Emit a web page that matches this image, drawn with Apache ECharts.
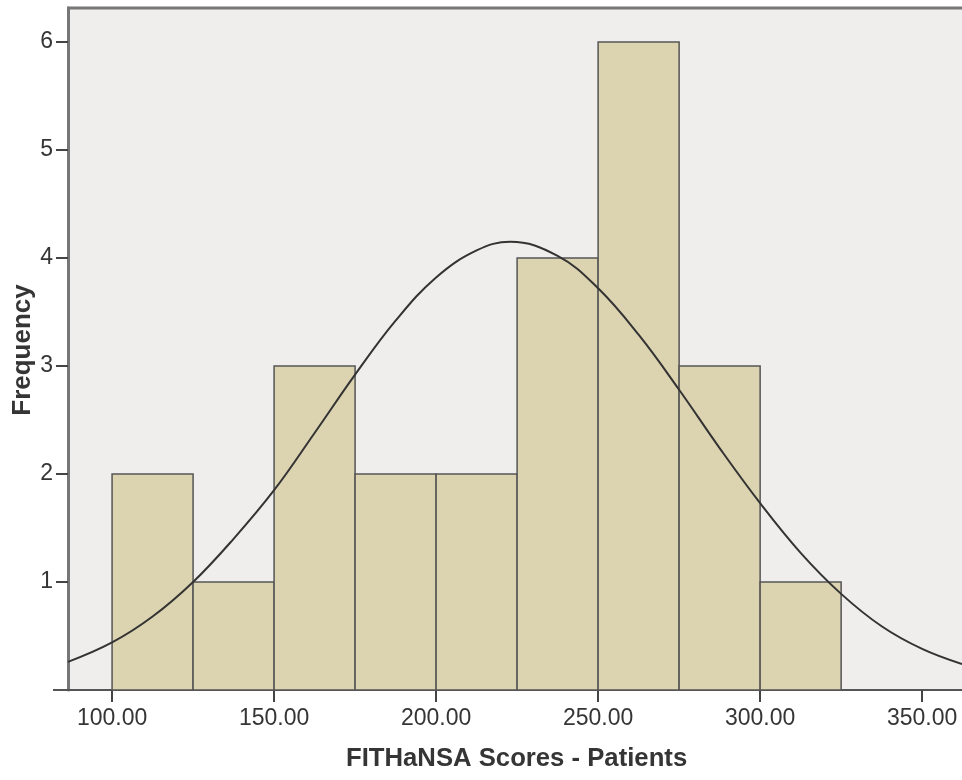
<!DOCTYPE html>
<html><head><meta charset="utf-8">
<script src="https://cdn.jsdelivr.net/npm/echarts@6/dist/echarts.min.js"></script>
<style>html,body{margin:0;padding:0;background:#fff}#c{width:962px;height:780px}</style>
</head><body><div id="c"></div>
<script>
// Histogram bins (lower edge, upper edge) and frequencies
const binLow  = [100, 125, 150, 175, 200, 225, 250, 275, 300];
const binHigh = [125, 150, 175, 200, 225, 250, 275, 300, 325];
const freq    = [2, 1, 3, 2, 2, 4, 6, 3, 1];
// Normal curve points
const curveX = [86.4, 100, 112.5, 125, 137.5, 150, 162.5, 175, 187.5, 200, 212.5, 222.9, 237.5, 250, 262.5, 275, 287.5, 300, 312.5, 325, 337.5, 350, 362.3];
const curveY = [0.26, 0.44, 0.68, 1.0, 1.40, 1.85, 2.38, 2.92, 3.42, 3.82, 4.07, 4.15, 4.02, 3.72, 3.29, 2.78, 2.24, 1.73, 1.27, 0.89, 0.59, 0.38, 0.24];
const xTicks = [100, 150, 200, 250, 300, 350];
const yTicks = [1, 2, 3, 4, 5, 6];
const xTitle = 'FITHaNSA Scores - Patients';
const yTitle = 'Frequency';

const barData = binLow.map((lo, i) => [lo, binHigh[i], freq[i]]);
const lineData = curveX.map((x, i) => [x, curveY[i]]);

const chart = echarts.init(document.getElementById('c'), null, {renderer: 'canvas'});
const font = '"Liberation Sans", Arial, sans-serif';
chart.setOption({
  animation: false,
  backgroundColor: '#ffffff',
  grid: {left: 68, top: 8, right: 0, bottom: 90, outerBoundsMode: 'none', containLabel: false,
         show: true, backgroundColor: '#efeeec', borderWidth: 0},
  xAxis: {
    type: 'value', min: 86.4, max: 362.3,
    splitLine: {show: false},
    axisLine: {show: true, onZero: false, lineStyle: {color: '#555', width: 2}},
    axisTick: {show: true, length: 12, customValues: xTicks, lineStyle: {color: '#444', width: 2}},
    axisLabel: {customValues: xTicks, formatter: v => v.toFixed(2), color: '#353535', fontSize: 23, fontFamily: font, margin: 17},
    name: xTitle, nameLocation: 'middle', nameGap: 62,
    nameTextStyle: {color: 'transparent', fontSize: 1}
  },
  yAxis: {
    type: 'value', min: 0, max: 6.315,
    splitLine: {show: false},
    axisLine: {show: true, lineStyle: {color: '#777', width: 3}},
    axisTick: {show: true, length: 12, customValues: yTicks, lineStyle: {color: '#444', width: 2}},
    axisLabel: {customValues: yTicks, color: '#353535', fontSize: 23, fontFamily: font, margin: 15},
    name: yTitle, nameLocation: 'middle', nameGap: 46,
    nameTextStyle: {color: 'transparent', fontSize: 1}
  },
  graphic: [
    {type: 'line', shape: {x1: 67, y1: 8, x2: 962, y2: 8}, style: {stroke: '#777', lineWidth: 3}, z: 100},
    {type: 'line', shape: {x1: 53, y1: 690, x2: 68, y2: 690}, style: {stroke: '#555', lineWidth: 2}, z: 100},
    {type: 'text', left: 346, top: 746, style: {text: xTitle, fill: '#353535', font: 'bold 25.7px ' + font}, z: 100},
    {type: 'text', x: 10, y: 350, rotation: Math.PI / 2, style: {text: yTitle, fill: '#353535', font: 'bold 26px ' + font, align: 'center', verticalAlign: 'top'}, z: 100}
  ],
  series: [
    {
      type: 'custom',
      data: barData,
      encode: {x: [0, 1], y: 2},
      renderItem: function (params, api) {
        const p0 = api.coord([api.value(0), api.value(2)]);
        const p1 = api.coord([api.value(1), 0]);
        return {
          type: 'rect',
          shape: {x: p0[0], y: p0[1], width: p1[0] - p0[0], height: p1[1] - p0[1]},
          style: {fill: '#dcd3b0', stroke: '#555', lineWidth: 1.5}
        };
      },
      z: 2
    },
    {
      type: 'line', data: lineData, smooth: 0.4, showSymbol: false,
      lineStyle: {color: '#333', width: 2}, z: 5, clip: true
    }
  ]
});
</script></body></html>
